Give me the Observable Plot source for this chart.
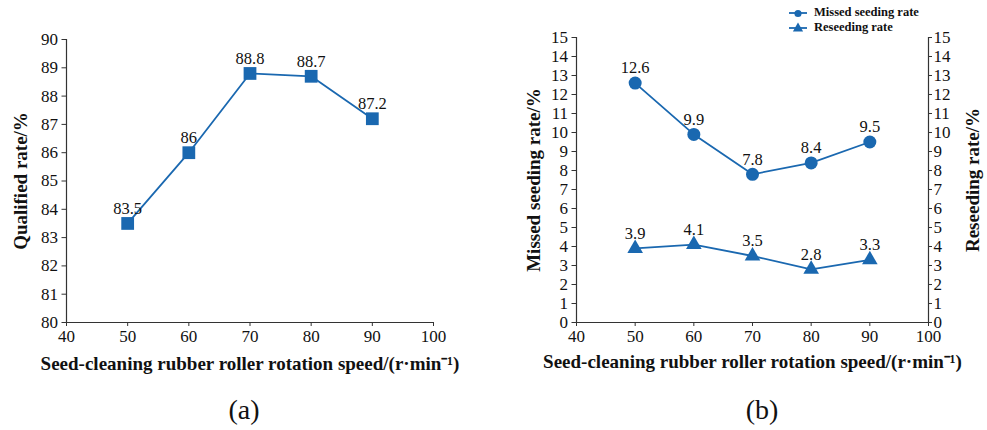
<!DOCTYPE html>
<html>
<head>
<meta charset="utf-8">
<script src="https://cdn.jsdelivr.net/npm/d3@7"></script>
<script src="https://cdn.jsdelivr.net/npm/@observablehq/plot@0.6"></script>
<style>
  html, body { margin: 0; padding: 0; background: #fff; }
  #wrap { position: relative; width: 987px; height: 430px; font-family: "Liberation Serif", "Times New Roman", serif; }
  #wrap svg, #wrap svg g, #wrap svg text { font-family: "Liberation Serif", "Times New Roman", serif !important; }
  .panel { position: absolute; top: 0; }
  .cap { position: absolute; top: 394px; font-size: 28px; line-height: 32px; color: #111; transform: translateX(-50%); }
  .legend { position: absolute; left: 788px; top: 5px; font-size: 12.5px; font-weight: bold; color: #111; }
  .legend div { display: flex; align-items: center; height: 15px; }
  .legend svg { margin-right: 6px; }
</style>
</head>
<body>
<div id="wrap">
  <div id="pa" class="panel" style="left:0px"></div>
  <div id="pb" class="panel" style="left:500px"></div>
  <div id="legend" class="legend"></div>
  <div class="cap" style="left:244px">(a)</div>
  <div class="cap" style="left:762px">(b)</div>
</div>
<script>
const speeds = [50, 60, 70, 80, 90];
const qualified = [83.5, 86, 88.8, 88.7, 87.2];
const missed = [12.6, 9.9, 7.8, 8.4, 9.5];
const reseeding = [3.9, 4.1, 3.5, 2.8, 3.3];
const xTicks = [40, 50, 60, 70, 80, 90, 100];
const yTicksA = [80, 81, 82, 83, 84, 85, 86, 87, 88, 89, 90];
const yTicksB = [0, 1, 2, 3, 4, 5, 6, 7, 8, 9, 10, 11, 12, 13, 14, 15];
const xLabel = "Seed-cleaning rubber roller rotation speed/(r·min⁻¹)";
const yLabelA = "Qualified rate/%";
const yLabelB = "Missed seeding rate/%";
const yLabelB2 = "Reseeding rate/%";
const seriesNames = ["Missed seeding rate", "Reseeding rate"];

const blue = "#1a68b0";
const axisColor = "#333";
const serif = "Liberation Serif";

const dataA = speeds.map((s, i) => ({x: s, y: qualified[i]}));
const dataM = speeds.map((s, i) => ({x: s, y: missed[i]}));
const dataR = speeds.map((s, i) => ({x: s, y: reseeding[i]}));

const style = {fontFamily: serif, fontSize: "16px", color: "#111", background: "transparent", overflow: "visible"};
const tf = {fontFamily: serif};
const tickFont = 17;
const labelFont = 19;

const plotA = Plot.plot({
  width: 480, height: 380,
  marginLeft: 66, marginRight: 47, marginTop: 39, marginBottom: 58,
  style,
  x: {domain: [40, 100]},
  y: {domain: [80, 90]},
  marks: [
    Plot.ruleX([40], {stroke: axisColor, strokeWidth: 1.2}),
    Plot.ruleY([80], {stroke: axisColor, strokeWidth: 1.2}),
    Plot.axisX({ticks: xTicks, tickSize: 4, tickPadding: 3, label: null, stroke: axisColor, fontSize: tickFont, ...tf}),
    Plot.axisY({ticks: yTicksA, tickSize: 4.5, tickPadding: 4, label: null, stroke: axisColor, fontSize: tickFont, ...tf}),
    Plot.text([xLabel], {frameAnchor: "bottom", lineAnchor: "middle", dy: 41, fontWeight: "bold", fontSize: labelFont, ...tf}),
    Plot.text([yLabelA], {frameAnchor: "left", textAnchor: "middle", lineAnchor: "middle", dx: -46, rotate: -90, fontWeight: "bold", fontSize: labelFont, ...tf}),
    Plot.line(dataA, {x: "x", y: "y", stroke: blue, strokeWidth: 1.8}),
    Plot.dot(dataA, {x: "x", y: "y", symbol: "square", r: 7.2, fill: blue, stroke: "none"}),
    Plot.text(dataA, {x: "x", y: "y", text: d => String(d.y), dy: -15, fontSize: 16.5, ...tf})
  ]
});
document.getElementById("pa").append(plotA);

const plotB = Plot.plot({
  width: 487, height: 380,
  marginLeft: 76, marginRight: 59, marginTop: 37, marginBottom: 58,
  style,
  x: {domain: [40, 100]},
  y: {domain: [0, 15]},
  marks: [
    Plot.ruleX([40, 100], {stroke: axisColor, strokeWidth: 1.2}),
    Plot.ruleY([0], {stroke: axisColor, strokeWidth: 1.2}),
    Plot.axisX({ticks: xTicks, tickSize: 4, tickPadding: 3, label: null, stroke: axisColor, fontSize: tickFont, ...tf}),
    Plot.axisY({ticks: yTicksB, tickSize: 4.5, tickPadding: 4, label: null, stroke: axisColor, fontSize: tickFont, ...tf}),
    Plot.axisY({anchor: "right", ticks: yTicksB, tickSize: 3, tickPadding: 2, label: null, stroke: axisColor, fontSize: tickFont, ...tf}),
    Plot.text([xLabel], {frameAnchor: "bottom", lineAnchor: "middle", dy: 39, fontWeight: "bold", fontSize: labelFont, ...tf}),
    Plot.text([yLabelB], {frameAnchor: "left", textAnchor: "middle", lineAnchor: "middle", dx: -43, rotate: -90, fontWeight: "bold", fontSize: labelFont, ...tf}),
    Plot.text([yLabelB2], {frameAnchor: "right", textAnchor: "middle", lineAnchor: "middle", dx: 44, rotate: -90, fontWeight: "bold", fontSize: labelFont, ...tf}),
    Plot.line(dataM, {x: "x", y: "y", stroke: blue, strokeWidth: 1.8}),
    Plot.dot(dataM, {x: "x", y: "y", symbol: "circle", r: 6.5, fill: blue, stroke: "none"}),
    Plot.text(dataM, {x: "x", y: "y", text: d => String(d.y), dy: -15, fontSize: 16.5, ...tf}),
    Plot.line(dataR, {x: "x", y: "y", stroke: blue, strokeWidth: 1.8}),
    Plot.dot(dataR, {x: "x", y: "y", symbol: "triangle", r: 5.8, fill: blue, stroke: "none"}),
    Plot.text(dataR, {x: "x", y: "y", text: d => String(d.y), dy: -15, fontSize: 16.5, ...tf})
  ]
});
document.getElementById("pb").append(plotB);

// legend
const legend = document.getElementById("legend");
const symbols = [d3.symbolCircle, d3.symbolTriangle];
seriesNames.forEach((name, i) => {
  const row = document.createElement("div");
  const svg = d3.create("svg").attr("width", 20).attr("height", 12);
  svg.append("line").attr("x1", 1).attr("x2", 19).attr("y1", 6).attr("y2", 6).attr("stroke", blue).attr("stroke-width", 1.8);
  svg.append("path").attr("d", d3.symbol(symbols[i], i === 0 ? 40 : 45)()).attr("transform", "translate(10,6.5)").attr("fill", blue);
  row.append(svg.node());
  const span = document.createElement("span");
  span.textContent = name;
  row.append(span);
  legend.append(row);
});
</script>
</body>
</html>
